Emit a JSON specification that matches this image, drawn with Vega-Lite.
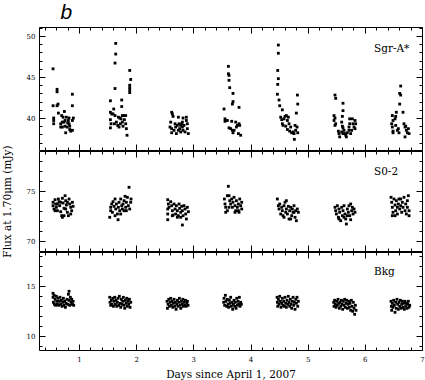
{
"$schema": "https://vega.github.io/schema/vega-lite/v6.json",
"background": "white",
"padding": {"left": 1, "top": 2, "right": 0, "bottom": 0},
"spacing": 1,
"bounds": "flush",
"title": {"text": "b", "anchor": "start", "font": "Liberation Sans", "fontStyle": "italic", "fontSize": 21, "fontWeight": "normal", "color": "black", "dx": 59, "offset": 0},
"datasets": {
"sgr": [
{"day":0.546,"flux":46.0},{"day":0.616,"flux":43.5},{"day":0.616,"flux":43.2},{"day":0.546,"flux":41.5},{"day":0.616,"flux":41.5},{"day":0.633,"flux":41.7},{"day":0.639,"flux":40.6},{"day":0.884,"flux":42.9},{"day":0.884,"flux":41.5},{"day":0.557,"flux":40.0},{"day":0.557,"flux":39.7},{"day":0.557,"flux":39.3},{"day":0.697,"flux":40.3},{"day":0.721,"flux":40.1},{"day":0.744,"flux":40.8},{"day":0.680,"flux":39.3},{"day":0.680,"flux":38.9},{"day":0.709,"flux":38.9},{"day":0.738,"flux":39.5},{"day":0.756,"flux":39.0},{"day":0.767,"flux":38.2},{"day":0.779,"flux":40.1},{"day":0.802,"flux":39.4},{"day":0.826,"flux":40.0},{"day":0.826,"flux":39.3},{"day":0.837,"flux":39.0},{"day":0.837,"flux":38.6},{"day":0.855,"flux":38.4},{"day":0.884,"flux":38.5},{"day":0.884,"flux":39.7},{"day":0.901,"flux":40.0},{"day":0.756,"flux":39.7},{"day":0.791,"flux":38.9},{"day":0.709,"flux":39.5},{"day":0.814,"flux":39.7},
{"day":1.642,"flux":49.1},{"day":1.642,"flux":47.8},{"day":1.630,"flux":46.7},{"day":1.630,"flux":43.6},{"day":1.549,"flux":42.1},{"day":1.747,"flux":42.2},{"day":1.747,"flux":41.4},{"day":1.887,"flux":45.8},{"day":1.904,"flux":44.7},{"day":1.887,"flux":44.0},{"day":1.887,"flux":43.7},{"day":1.887,"flux":43.4},{"day":1.887,"flux":43.1},{"day":1.607,"flux":41.1},{"day":1.549,"flux":40.7},{"day":1.572,"flux":40.5},{"day":1.595,"flux":40.5},{"day":1.630,"flux":40.3},{"day":1.549,"flux":39.8},{"day":1.560,"flux":39.3},{"day":1.549,"flux":38.8},{"day":1.689,"flux":40.1},{"day":1.712,"flux":40.0},{"day":1.735,"flux":39.9},{"day":1.758,"flux":40.3},{"day":1.794,"flux":40.3},{"day":1.817,"flux":40.3},{"day":1.619,"flux":39.3},{"day":1.677,"flux":39.1},{"day":1.700,"flux":38.9},{"day":1.724,"flux":39.3},{"day":1.758,"flux":39.5},{"day":1.770,"flux":39.0},{"day":1.794,"flux":39.8},{"day":1.817,"flux":39.3},{"day":1.828,"flux":38.7},{"day":1.840,"flux":37.9},{"day":1.654,"flux":39.5},
{"day":2.621,"flux":40.7},{"day":2.633,"flux":40.5},{"day":2.645,"flux":40.2},{"day":2.604,"flux":39.5},{"day":2.592,"flux":38.9},{"day":2.621,"flux":38.7},{"day":2.621,"flux":38.2},{"day":2.680,"flux":39.3},{"day":2.691,"flux":38.9},{"day":2.703,"flux":38.1},{"day":2.720,"flux":39.1},{"day":2.738,"flux":40.1},{"day":2.750,"flux":39.3},{"day":2.761,"flux":38.7},{"day":2.779,"flux":39.1},{"day":2.796,"flux":39.3},{"day":2.808,"flux":39.5},{"day":2.808,"flux":38.9},{"day":2.820,"flux":40.0},{"day":2.820,"flux":38.5},{"day":2.837,"flux":39.1},{"day":2.855,"flux":38.3},{"day":2.878,"flux":40.1},{"day":2.878,"flux":39.7},{"day":2.895,"flux":39.3},{"day":2.895,"flux":38.7},{"day":2.913,"flux":38.1},{"day":2.662,"flux":38.5},{"day":2.779,"flux":38.3},{"day":2.738,"flux":38.5},
{"day":3.613,"flux":46.3},{"day":3.613,"flux":45.4},{"day":3.624,"flux":45.2},{"day":3.624,"flux":44.6},{"day":3.636,"flux":43.7},{"day":3.694,"flux":43.0},{"day":3.694,"flux":42.0},{"day":3.683,"flux":41.7},{"day":3.537,"flux":41.1},{"day":3.799,"flux":41.3},{"day":3.554,"flux":39.9},{"day":3.554,"flux":39.6},{"day":3.595,"flux":39.7},{"day":3.624,"flux":38.8},{"day":3.671,"flux":39.6},{"day":3.683,"flux":38.5},{"day":3.694,"flux":38.2},{"day":3.741,"flux":39.5},{"day":3.753,"flux":38.9},{"day":3.770,"flux":39.1},{"day":3.788,"flux":38.1},{"day":3.799,"flux":39.3},{"day":3.811,"flux":39.1},{"day":3.828,"flux":37.9},{"day":3.653,"flux":38.7},{"day":3.712,"flux":38.5},
{"day":4.487,"flux":48.9},{"day":4.487,"flux":47.9},{"day":4.476,"flux":45.8},{"day":4.487,"flux":44.8},{"day":4.476,"flux":44.1},{"day":4.470,"flux":42.9},{"day":4.499,"flux":42.2},{"day":4.511,"flux":41.5},{"day":4.557,"flux":41.0},{"day":4.820,"flux":42.8},{"day":4.826,"flux":41.7},{"day":4.802,"flux":40.6},{"day":4.528,"flux":40.1},{"day":4.546,"flux":39.8},{"day":4.557,"flux":39.3},{"day":4.586,"flux":39.9},{"day":4.604,"flux":40.2},{"day":4.627,"flux":40.3},{"day":4.645,"flux":39.7},{"day":4.662,"flux":40.1},{"day":4.569,"flux":39.1},{"day":4.616,"flux":39.0},{"day":4.645,"flux":38.6},{"day":4.674,"flux":39.3},{"day":4.685,"flux":38.4},{"day":4.703,"flux":38.9},{"day":4.720,"flux":38.2},{"day":4.744,"flux":38.3},{"day":4.761,"flux":38.1},{"day":4.767,"flux":37.4},{"day":4.790,"flux":38.5},{"day":4.779,"flux":39.1},{"day":4.814,"flux":38.9},{"day":4.826,"flux":38.2},
{"day":5.478,"flux":42.8},{"day":5.490,"flux":42.4},{"day":5.618,"flux":41.8},{"day":5.618,"flux":40.9},{"day":5.607,"flux":40.2},{"day":5.461,"flux":40.3},{"day":5.478,"flux":40.0},{"day":5.461,"flux":39.7},{"day":5.490,"flux":39.3},{"day":5.478,"flux":39.1},{"day":5.595,"flux":39.5},{"day":5.607,"flux":39.0},{"day":5.618,"flux":38.8},{"day":5.537,"flux":38.4},{"day":5.548,"flux":38.1},{"day":5.560,"flux":37.7},{"day":5.595,"flux":38.3},{"day":5.618,"flux":38.1},{"day":5.653,"flux":38.1},{"day":5.665,"flux":37.9},{"day":5.677,"flux":37.7},{"day":5.694,"flux":38.2},{"day":5.723,"flux":38.5},{"day":5.735,"flux":39.9},{"day":5.735,"flux":39.3},{"day":5.723,"flux":38.9},{"day":5.752,"flux":38.1},{"day":5.782,"flux":39.9},{"day":5.793,"flux":39.3},{"day":5.811,"flux":38.9},{"day":5.828,"flux":39.7},{"day":5.828,"flux":38.7},{"day":5.840,"flux":39.3},{"day":5.636,"flux":38.5},{"day":5.770,"flux":38.5},
{"day":6.627,"flux":43.9},{"day":6.610,"flux":43.0},{"day":6.627,"flux":42.8},{"day":6.610,"flux":41.7},{"day":6.668,"flux":40.7},{"day":6.551,"flux":40.7},{"day":6.540,"flux":40.2},{"day":6.528,"flux":39.9},{"day":6.481,"flux":40.3},{"day":6.493,"flux":39.7},{"day":6.470,"flux":39.3},{"day":6.481,"flux":38.9},{"day":6.493,"flux":38.4},{"day":6.493,"flux":38.2},{"day":6.540,"flux":39.1},{"day":6.569,"flux":38.5},{"day":6.586,"flux":38.7},{"day":6.685,"flux":39.3},{"day":6.703,"flux":38.9},{"day":6.715,"flux":39.0},{"day":6.726,"flux":38.5},{"day":6.744,"flux":38.2},{"day":6.703,"flux":37.7},{"day":6.761,"flux":38.7},{"day":6.774,"flux":38.1},{"day":6.598,"flux":38.2}
],
"s02": [
{"day":0.546,"flux":73.90},{"day":0.546,"flux":73.56},{"day":0.563,"flux":73.23},{"day":0.581,"flux":74.16},{"day":0.592,"flux":73.73},{"day":0.604,"flux":73.40},{"day":0.622,"flux":73.06},{"day":0.639,"flux":74.23},{"day":0.651,"flux":73.96},{"day":0.662,"flux":73.56},{"day":0.680,"flux":72.96},{"day":0.697,"flux":72.56},{"day":0.709,"flux":74.30},{"day":0.721,"flux":73.83},{"day":0.738,"flux":73.30},{"day":0.738,"flux":72.56},{"day":0.756,"flux":74.56},{"day":0.767,"flux":74.06},{"day":0.779,"flux":73.63},{"day":0.796,"flux":72.90},{"day":0.814,"flux":72.56},{"day":0.826,"flux":74.23},{"day":0.837,"flux":73.73},{"day":0.855,"flux":73.40},{"day":0.872,"flux":73.06},{"day":0.884,"flux":73.90},{"day":0.896,"flux":73.50},{"day":0.680,"flux":73.90},{"day":0.622,"flux":73.73},{"day":0.796,"flux":73.90},{"day":0.767,"flux":73.23},{"day":0.855,"flux":72.73},{"day":0.709,"flux":72.40},{"day":0.581,"flux":73.06},
{"day":1.537,"flux":72.40},{"day":1.554,"flux":73.06},{"day":1.554,"flux":73.40},{"day":1.572,"flux":73.73},{"day":1.584,"flux":72.90},{"day":1.595,"flux":73.96},{"day":1.613,"flux":73.50},{"day":1.630,"flux":74.23},{"day":1.642,"flux":73.23},{"day":1.654,"flux":73.73},{"day":1.671,"flux":72.73},{"day":1.683,"flux":72.16},{"day":1.689,"flux":73.40},{"day":1.700,"flux":73.90},{"day":1.712,"flux":73.06},{"day":1.729,"flux":74.23},{"day":1.747,"flux":73.56},{"day":1.758,"flux":73.23},{"day":1.770,"flux":73.73},{"day":1.788,"flux":74.06},{"day":1.788,"flux":73.06},{"day":1.805,"flux":74.50},{"day":1.817,"flux":73.40},{"day":1.828,"flux":73.90},{"day":1.846,"flux":74.40},{"day":1.863,"flux":73.56},{"day":1.875,"flux":75.40},{"day":1.887,"flux":73.23},{"day":1.904,"flux":73.90},{"day":1.910,"flux":74.23},{"day":1.729,"flux":72.73},{"day":1.630,"flux":72.56},{"day":1.828,"flux":73.06},
{"day":2.552,"flux":74.16},{"day":2.563,"flux":73.73},{"day":2.552,"flux":73.23},{"day":2.552,"flux":72.73},{"day":2.552,"flux":72.16},{"day":2.575,"flux":73.40},{"day":2.604,"flux":73.96},{"day":2.621,"flux":73.56},{"day":2.633,"flux":73.06},{"day":2.645,"flux":72.63},{"day":2.662,"flux":73.73},{"day":2.680,"flux":73.23},{"day":2.691,"flux":72.73},{"day":2.703,"flux":73.56},{"day":2.720,"flux":73.06},{"day":2.738,"flux":72.56},{"day":2.750,"flux":73.73},{"day":2.761,"flux":73.30},{"day":2.779,"flux":72.90},{"day":2.796,"flux":73.50},{"day":2.808,"flux":73.06},{"day":2.808,"flux":71.63},{"day":2.820,"flux":72.56},{"day":2.837,"flux":73.56},{"day":2.855,"flux":73.23},{"day":2.866,"flux":72.73},{"day":2.878,"flux":72.23},{"day":2.895,"flux":73.40},{"day":2.913,"flux":72.96},{"day":2.720,"flux":72.40},{"day":2.633,"flux":72.56},{"day":2.779,"flux":72.40},
{"day":3.612,"flux":75.50},{"day":3.543,"flux":74.23},{"day":3.554,"flux":73.73},{"day":3.566,"flux":72.90},{"day":3.595,"flux":74.56},{"day":3.624,"flux":73.40},{"day":3.624,"flux":74.56},{"day":3.636,"flux":74.06},{"day":3.653,"flux":73.73},{"day":3.671,"flux":74.23},{"day":3.683,"flux":73.40},{"day":3.694,"flux":73.90},{"day":3.712,"flux":74.40},{"day":3.729,"flux":73.56},{"day":3.741,"flux":73.06},{"day":3.753,"flux":74.06},{"day":3.770,"flux":73.40},{"day":3.788,"flux":73.73},{"day":3.799,"flux":72.90},{"day":3.811,"flux":74.23},{"day":3.828,"flux":73.56},{"day":3.846,"flux":73.23},{"day":3.846,"flux":73.90},{"day":3.566,"flux":73.40},{"day":3.595,"flux":73.06},{"day":3.729,"flux":72.90},{"day":3.788,"flux":73.06},
{"day":4.470,"flux":74.23},{"day":4.487,"flux":73.56},{"day":4.499,"flux":73.23},{"day":4.511,"flux":73.73},{"day":4.528,"flux":72.73},{"day":4.546,"flux":73.40},{"day":4.557,"flux":73.06},{"day":4.569,"flux":72.56},{"day":4.586,"flux":73.56},{"day":4.604,"flux":73.90},{"day":4.616,"flux":72.90},{"day":4.627,"flux":73.23},{"day":4.645,"flux":72.73},{"day":4.662,"flux":73.50},{"day":4.674,"flux":72.23},{"day":4.685,"flux":73.06},{"day":4.703,"flux":73.40},{"day":4.720,"flux":72.56},{"day":4.732,"flux":73.23},{"day":4.744,"flux":72.90},{"day":4.761,"flux":73.56},{"day":4.779,"flux":72.40},{"day":4.790,"flux":73.06},{"day":4.802,"flux":72.06},{"day":4.819,"flux":73.23},{"day":4.837,"flux":72.90},{"day":4.586,"flux":72.40},{"day":4.703,"flux":72.23},{"day":4.627,"flux":74.06},{"day":4.761,"flux":72.90},
{"day":5.478,"flux":73.40},{"day":5.490,"flux":73.06},{"day":5.502,"flux":72.73},{"day":5.519,"flux":73.56},{"day":5.537,"flux":72.40},{"day":5.548,"flux":73.23},{"day":5.560,"flux":72.90},{"day":5.578,"flux":72.06},{"day":5.595,"flux":73.40},{"day":5.607,"flux":72.56},{"day":5.618,"flux":73.06},{"day":5.636,"flux":73.56},{"day":5.653,"flux":72.73},{"day":5.665,"flux":72.23},{"day":5.677,"flux":71.73},{"day":5.694,"flux":73.23},{"day":5.712,"flux":72.90},{"day":5.723,"flux":73.56},{"day":5.735,"flux":72.56},{"day":5.752,"flux":73.73},{"day":5.752,"flux":72.16},{"day":5.770,"flux":73.06},{"day":5.782,"flux":73.40},{"day":5.793,"flux":72.73},{"day":5.811,"flux":73.23},{"day":5.828,"flux":72.90},{"day":5.548,"flux":72.23},{"day":5.636,"flux":72.40},{"day":5.694,"flux":72.56},
{"day":6.458,"flux":74.40},{"day":6.470,"flux":73.90},{"day":6.481,"flux":73.40},{"day":6.481,"flux":72.56},{"day":6.493,"flux":72.90},{"day":6.510,"flux":74.23},{"day":6.528,"flux":73.63},{"day":6.540,"flux":73.06},{"day":6.551,"flux":74.06},{"day":6.569,"flux":73.40},{"day":6.569,"flux":72.73},{"day":6.586,"flux":73.73},{"day":6.598,"flux":74.23},{"day":6.610,"flux":73.23},{"day":6.627,"flux":73.56},{"day":6.645,"flux":72.90},{"day":6.656,"flux":73.90},{"day":6.668,"flux":73.40},{"day":6.685,"flux":74.40},{"day":6.703,"flux":73.06},{"day":6.715,"flux":73.73},{"day":6.726,"flux":72.73},{"day":6.744,"flux":74.06},{"day":6.744,"flux":73.40},{"day":6.761,"flux":74.56},{"day":6.774,"flux":73.06},{"day":6.774,"flux":72.56},{"day":6.528,"flux":72.56},{"day":6.627,"flux":74.23}
],
"bkg": [
{"day":0.546,"flux":14.3},{"day":0.546,"flux":13.9},{"day":0.552,"flux":13.4},{"day":0.563,"flux":14.1},{"day":0.569,"flux":13.2},{"day":0.581,"flux":13.7},{"day":0.592,"flux":13.1},{"day":0.604,"flux":14.0},{"day":0.610,"flux":13.5},{"day":0.622,"flux":13.2},{"day":0.633,"flux":13.8},{"day":0.645,"flux":13.1},{"day":0.656,"flux":13.5},{"day":0.668,"flux":13.9},{"day":0.680,"flux":13.2},{"day":0.692,"flux":13.6},{"day":0.703,"flux":13.0},{"day":0.715,"flux":13.4},{"day":0.727,"flux":13.8},{"day":0.738,"flux":13.1},{"day":0.750,"flux":13.5},{"day":0.762,"flux":12.9},{"day":0.773,"flux":13.3},{"day":0.790,"flux":13.7},{"day":0.802,"flux":13.2},{"day":0.814,"flux":14.2},{"day":0.826,"flux":14.5},{"day":0.826,"flux":13.6},{"day":0.837,"flux":13.1},{"day":0.849,"flux":13.9},{"day":0.860,"flux":13.4},{"day":0.872,"flux":13.7},{"day":0.884,"flux":13.2},{"day":0.896,"flux":13.5},{"day":0.907,"flux":13.1},
{"day":1.537,"flux":13.9},{"day":1.543,"flux":13.4},{"day":1.554,"flux":13.1},{"day":1.566,"flux":13.6},{"day":1.578,"flux":13.2},{"day":1.590,"flux":13.8},{"day":1.601,"flux":13.0},{"day":1.613,"flux":13.5},{"day":1.625,"flux":13.9},{"day":1.636,"flux":13.2},{"day":1.648,"flux":13.6},{"day":1.660,"flux":13.0},{"day":1.671,"flux":13.4},{"day":1.683,"flux":13.8},{"day":1.695,"flux":13.1},{"day":1.706,"flux":14.0},{"day":1.718,"flux":13.3},{"day":1.730,"flux":12.9},{"day":1.741,"flux":13.7},{"day":1.753,"flux":13.2},{"day":1.765,"flux":13.5},{"day":1.776,"flux":13.9},{"day":1.788,"flux":13.1},{"day":1.800,"flux":12.8},{"day":1.811,"flux":13.6},{"day":1.823,"flux":13.3},{"day":1.835,"flux":13.8},{"day":1.846,"flux":13.0},{"day":1.858,"flux":13.5},{"day":1.870,"flux":13.2},{"day":1.882,"flux":13.7},{"day":1.893,"flux":12.9},{"day":1.905,"flux":13.4},
{"day":2.540,"flux":13.5},{"day":2.546,"flux":12.8},{"day":2.558,"flux":13.2},{"day":2.570,"flux":13.7},{"day":2.581,"flux":13.0},{"day":2.593,"flux":13.4},{"day":2.605,"flux":13.8},{"day":2.616,"flux":13.1},{"day":2.628,"flux":13.5},{"day":2.640,"flux":12.9},{"day":2.651,"flux":13.3},{"day":2.663,"flux":13.7},{"day":2.675,"flux":13.0},{"day":2.686,"flux":13.4},{"day":2.698,"flux":12.7},{"day":2.710,"flux":13.2},{"day":2.721,"flux":13.6},{"day":2.733,"flux":13.0},{"day":2.745,"flux":13.4},{"day":2.756,"flux":13.8},{"day":2.768,"flux":13.1},{"day":2.780,"flux":12.8},{"day":2.791,"flux":13.5},{"day":2.803,"flux":13.2},{"day":2.815,"flux":13.7},{"day":2.826,"flux":13.0},{"day":2.838,"flux":13.4},{"day":2.850,"flux":13.1},{"day":2.861,"flux":13.6},{"day":2.873,"flux":13.0},{"day":2.885,"flux":13.3},{"day":2.896,"flux":13.5},{"day":2.908,"flux":13.1},
{"day":3.531,"flux":13.4},{"day":3.537,"flux":13.8},{"day":3.548,"flux":13.1},{"day":3.560,"flux":14.1},{"day":3.572,"flux":13.5},{"day":3.583,"flux":13.0},{"day":3.595,"flux":13.7},{"day":3.607,"flux":13.2},{"day":3.618,"flux":12.9},{"day":3.630,"flux":13.6},{"day":3.642,"flux":13.3},{"day":3.653,"flux":13.9},{"day":3.665,"flux":13.0},{"day":3.677,"flux":13.4},{"day":3.688,"flux":12.7},{"day":3.700,"flux":13.2},{"day":3.712,"flux":13.6},{"day":3.723,"flux":13.0},{"day":3.735,"flux":13.4},{"day":3.747,"flux":12.8},{"day":3.758,"flux":13.8},{"day":3.770,"flux":13.1},{"day":3.782,"flux":13.5},{"day":3.793,"flux":13.2},{"day":3.805,"flux":13.9},{"day":3.817,"flux":13.0},{"day":3.828,"flux":13.4},{"day":3.840,"flux":13.2},
{"day":4.465,"flux":13.9},{"day":4.470,"flux":13.4},{"day":4.476,"flux":13.0},{"day":4.487,"flux":13.7},{"day":4.499,"flux":13.2},{"day":4.511,"flux":14.0},{"day":4.522,"flux":13.5},{"day":4.534,"flux":12.9},{"day":4.546,"flux":13.3},{"day":4.557,"flux":13.8},{"day":4.569,"flux":13.1},{"day":4.581,"flux":13.5},{"day":4.592,"flux":13.0},{"day":4.604,"flux":13.9},{"day":4.616,"flux":13.3},{"day":4.627,"flux":12.9},{"day":4.639,"flux":13.6},{"day":4.651,"flux":13.2},{"day":4.662,"flux":14.0},{"day":4.674,"flux":13.4},{"day":4.686,"flux":13.0},{"day":4.697,"flux":13.7},{"day":4.709,"flux":13.2},{"day":4.721,"flux":12.8},{"day":4.732,"flux":13.5},{"day":4.744,"flux":13.9},{"day":4.756,"flux":13.1},{"day":4.767,"flux":13.4},{"day":4.779,"flux":12.7},{"day":4.791,"flux":13.7},{"day":4.802,"flux":13.3},{"day":4.814,"flux":13.9},{"day":4.826,"flux":13.0},{"day":4.837,"flux":13.5},
{"day":5.455,"flux":13.4},{"day":5.461,"flux":13.0},{"day":5.472,"flux":13.6},{"day":5.484,"flux":13.2},{"day":5.496,"flux":12.9},{"day":5.507,"flux":13.5},{"day":5.519,"flux":13.1},{"day":5.531,"flux":13.7},{"day":5.542,"flux":13.3},{"day":5.554,"flux":12.8},{"day":5.566,"flux":13.4},{"day":5.577,"flux":13.0},{"day":5.589,"flux":13.6},{"day":5.601,"flux":13.2},{"day":5.612,"flux":12.7},{"day":5.624,"flux":13.5},{"day":5.636,"flux":13.1},{"day":5.647,"flux":13.7},{"day":5.659,"flux":12.9},{"day":5.671,"flux":13.3},{"day":5.682,"flux":13.6},{"day":5.694,"flux":12.8},{"day":5.706,"flux":13.2},{"day":5.717,"flux":13.5},{"day":5.729,"flux":12.9},{"day":5.741,"flux":13.3},{"day":5.752,"flux":12.6},{"day":5.764,"flux":13.6},{"day":5.776,"flux":13.0},{"day":5.787,"flux":12.5},{"day":5.799,"flux":13.4},{"day":5.811,"flux":12.8},{"day":5.822,"flux":12.2},{"day":5.834,"flux":13.1},{"day":5.846,"flux":12.6},
{"day":6.458,"flux":13.5},{"day":6.464,"flux":13.0},{"day":6.470,"flux":12.6},{"day":6.481,"flux":13.3},{"day":6.493,"flux":12.9},{"day":6.505,"flux":13.6},{"day":6.516,"flux":13.1},{"day":6.528,"flux":12.4},{"day":6.540,"flux":13.4},{"day":6.551,"flux":12.8},{"day":6.563,"flux":13.7},{"day":6.575,"flux":13.2},{"day":6.586,"flux":12.7},{"day":6.598,"flux":13.4},{"day":6.610,"flux":13.0},{"day":6.621,"flux":13.6},{"day":6.633,"flux":12.8},{"day":6.645,"flux":13.2},{"day":6.656,"flux":13.5},{"day":6.668,"flux":12.9},{"day":6.680,"flux":13.3},{"day":6.691,"flux":12.7},{"day":6.703,"flux":13.5},{"day":6.715,"flux":13.0},{"day":6.726,"flux":13.3},{"day":6.738,"flux":12.8},{"day":6.750,"flux":13.2},{"day":6.761,"flux":13.5},{"day":6.773,"flux":12.9},{"day":6.785,"flux":13.1}
]
},
"vconcat": [
{
"width": 383, "height": 123,
"data": {"name": "sgr"},
"resolve": {"axis": {"x": "independent", "y": "independent"}},
"layer": [
{"mark": {"type": "square", "size": 8, "color": "black", "opacity": 1},
"encoding": {
"x": {"field": "day", "type": "quantitative", "scale": {"domain": [0.3, 7], "nice": false, "zero": false},
"axis": {"orient": "bottom", "values": [0.4,0.6,0.8,1,1.2,1.4,1.6,1.8,2,2.2,2.4,2.6,2.8,3,3.2,3.4,3.6,3.8,4,4.2,4.4,4.6,4.8,5,5.2,5.4,5.6,5.8,6,6.2,6.4,6.6,6.8,7], "labels": false, "title": null, "minExtent": 0, "maxExtent": 0, "tickSize": {"condition": {"test": "abs(datum.value - round(datum.value)) < 0.001", "value": -6}, "value": -3}}},
"y": {"field": "flux", "type": "quantitative", "scale": {"domain": [36.1, 51.1], "nice": false, "zero": false},
"axis": {"orient": "left", "values": [37,38,39,40,41,42,43,44,45,46,47,48,49,50,51], "format": "d", "labelOverlap": false, "labelExpr": "datum.value % 5 === 0 ? datum.label : ''", "labelPadding": 10, "title": null, "tickSize": {"condition": {"test": "datum.value % 5 === 0", "value": -6}, "value": -3}}}
}},
{"mark": {"type": "square", "size": 8, "opacity": 0},
"encoding": {
"x": {"field": "day", "type": "quantitative",
"axis": {"orient": "top", "values": [0.4,0.6,0.8,1,1.2,1.4,1.6,1.8,2,2.2,2.4,2.6,2.8,3,3.2,3.4,3.6,3.8,4,4.2,4.4,4.6,4.8,5,5.2,5.4,5.6,5.8,6,6.2,6.4,6.6,6.8,7], "labels": false, "title": null, "minExtent": 0, "maxExtent": 0, "tickSize": {"condition": {"test": "abs(datum.value - round(datum.value)) < 0.001", "value": -6}, "value": -3}}},
"y": {"field": "flux", "type": "quantitative",
"axis": {"orient": "right", "values": [37,38,39,40,41,42,43,44,45,46,47,48,49,50,51], "labels": false, "title": null, "minExtent": 0, "maxExtent": 0, "tickSize": {"condition": {"test": "datum.value % 5 === 0", "value": -6}, "value": -3}}}
}},
{"data": {"values": [{"label": "Sgr-A*"}]},
"mark": {"type": "text", "align": "left", "baseline": "alphabetic", "font": "DejaVu Serif", "fontSize": 10.5, "color": "black"},
"encoding": {
"x": {"datum": 6.16, "type": "quantitative", "axis": null},
"y": {"datum": 48.0, "type": "quantitative", "axis": null},
"text": {"field": "label"}
}}
]
},
{
"width": 383, "height": 100,
"data": {"name": "s02"},
"resolve": {"axis": {"x": "independent", "y": "independent"}},
"layer": [
{"mark": {"type": "square", "size": 8, "color": "black", "opacity": 1},
"encoding": {
"x": {"field": "day", "type": "quantitative", "scale": {"domain": [0.3, 7], "nice": false, "zero": false},
"axis": {"orient": "bottom", "values": [0.4,0.6,0.8,1,1.2,1.4,1.6,1.8,2,2.2,2.4,2.6,2.8,3,3.2,3.4,3.6,3.8,4,4.2,4.4,4.6,4.8,5,5.2,5.4,5.6,5.8,6,6.2,6.4,6.6,6.8,7], "labels": false, "title": null, "minExtent": 0, "maxExtent": 0, "tickSize": {"condition": {"test": "abs(datum.value - round(datum.value)) < 0.001", "value": -6}, "value": -3}}},
"y": {"field": "flux", "type": "quantitative", "scale": {"domain": [69.03, 79.03], "nice": false, "zero": false},
"axis": {"orient": "left", "values": [70,71,72,73,74,75,76,77,78,79], "format": "d", "labelOverlap": false, "labelExpr": "datum.value % 5 === 0 ? datum.label : ''", "labelPadding": 10, "title": "Flux at 1.70μm (mJy)", "titlePadding": 14, "tickSize": {"condition": {"test": "datum.value % 5 === 0", "value": -6}, "value": -3}}}
}},
{"mark": {"type": "square", "size": 8, "opacity": 0},
"encoding": {
"x": {"field": "day", "type": "quantitative",
"axis": {"orient": "top", "values": [0.4,0.6,0.8,1,1.2,1.4,1.6,1.8,2,2.2,2.4,2.6,2.8,3,3.2,3.4,3.6,3.8,4,4.2,4.4,4.6,4.8,5,5.2,5.4,5.6,5.8,6,6.2,6.4,6.6,6.8,7], "labels": false, "title": null, "minExtent": 0, "maxExtent": 0, "tickSize": {"condition": {"test": "abs(datum.value - round(datum.value)) < 0.001", "value": -6}, "value": -3}}},
"y": {"field": "flux", "type": "quantitative",
"axis": {"orient": "right", "values": [70,71,72,73,74,75,76,77,78,79], "labels": false, "title": null, "minExtent": 0, "maxExtent": 0, "tickSize": {"condition": {"test": "datum.value % 5 === 0", "value": -6}, "value": -3}}}
}},
{"data": {"values": [{"label": "S0-2"}]},
"mark": {"type": "text", "align": "left", "baseline": "alphabetic", "font": "DejaVu Serif", "fontSize": 10.5, "color": "black"},
"encoding": {
"x": {"datum": 6.16, "type": "quantitative", "axis": null},
"y": {"datum": 76.66, "type": "quantitative", "axis": null},
"text": {"field": "label"}
}}
]
},
{
"width": 383, "height": 98,
"data": {"name": "bkg"},
"resolve": {"axis": {"x": "independent", "y": "independent"}},
"layer": [
{"mark": {"type": "square", "size": 8, "color": "black", "opacity": 1},
"encoding": {
"x": {"field": "day", "type": "quantitative", "scale": {"domain": [0.3, 7], "nice": false, "zero": false},
"axis": {"orient": "bottom", "values": [0.4,0.6,0.8,1,1.2,1.4,1.6,1.8,2,2.2,2.4,2.6,2.8,3,3.2,3.4,3.6,3.8,4,4.2,4.4,4.6,4.8,5,5.2,5.4,5.6,5.8,6,6.2,6.4,6.6,6.8,7], "labels": false, "title": null, "minExtent": 0, "maxExtent": 0, "tickSize": {"condition": {"test": "abs(datum.value - round(datum.value)) < 0.001", "value": -6}, "value": -3}}},
"y": {"field": "flux", "type": "quantitative", "scale": {"domain": [8.63, 18.43], "nice": false, "zero": false},
"axis": {"orient": "left", "values": [9,10,11,12,13,14,15,16,17,18], "format": "d", "labelOverlap": false, "labelExpr": "datum.value % 5 === 0 ? datum.label : ''", "labelPadding": 10, "title": null, "tickSize": {"condition": {"test": "datum.value % 5 === 0", "value": -6}, "value": -3}}}
}},
{"mark": {"type": "square", "size": 8, "opacity": 0},
"encoding": {
"x": {"field": "day", "type": "quantitative",
"axis": {"orient": "top", "values": [0.4,0.6,0.8,1,1.2,1.4,1.6,1.8,2,2.2,2.4,2.6,2.8,3,3.2,3.4,3.6,3.8,4,4.2,4.4,4.6,4.8,5,5.2,5.4,5.6,5.8,6,6.2,6.4,6.6,6.8,7], "labels": false, "title": null, "minExtent": 0, "maxExtent": 0, "tickSize": {"condition": {"test": "abs(datum.value - round(datum.value)) < 0.001", "value": -6}, "value": -3}}},
"y": {"field": "flux", "type": "quantitative",
"axis": {"orient": "right", "values": [9,10,11,12,13,14,15,16,17,18], "labels": false, "title": null, "minExtent": 0, "maxExtent": 0, "tickSize": {"condition": {"test": "datum.value % 5 === 0", "value": -6}, "value": -3}}}
}},
{"mark": {"type": "square", "size": 8, "opacity": 0},
"encoding": {
"x": {"field": "day", "type": "quantitative",
"axis": {"orient": "bottom", "values": [1,2,3,4,5,6,7], "format": "d", "ticks": false, "labelOverlap": false, "labelPadding": 5, "title": "Days since April 1, 2007", "titlePadding": 7}},
"y": {"field": "flux", "type": "quantitative", "axis": null}
}},
{"data": {"values": [{"label": "Bkg"}]},
"mark": {"type": "text", "align": "left", "baseline": "alphabetic", "font": "DejaVu Serif", "fontSize": 10.5, "color": "black"},
"encoding": {
"x": {"datum": 6.16, "type": "quantitative", "axis": null},
"y": {"datum": 16.13, "type": "quantitative", "axis": null},
"text": {"field": "label"}
}}
]
}
],
"config": {
"view": {"stroke": "black", "strokeWidth": 1},
"axis": {"grid": false, "domain": false, "tickColor": "black", "tickWidth": 1, "labelColor": "black", "titleColor": "black", "labelFont": "DejaVu Serif", "titleFont": "DejaVu Serif", "labelFontSize": 7, "titleFontSize": 10.5, "titleFontWeight": "normal", "labelFlush": false, "labelOverlap": false}
}
}
